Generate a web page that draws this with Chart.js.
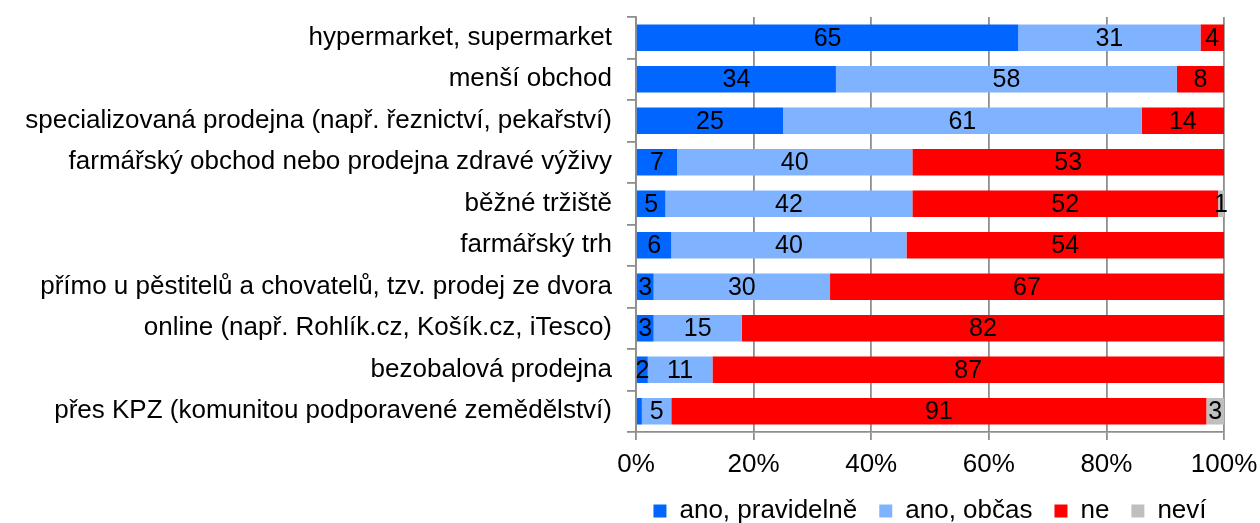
<!DOCTYPE html>
<html>
<head>
<meta charset="utf-8">
<script src="https://cdn.jsdelivr.net/npm/chart.js@4.4.1/dist/chart.umd.min.js"></script>
<style>
    body { margin: 0; background: #fff; }
    #obal { width: 1260px; height: 523px; }
</style>
</head>
<body>
<div id="obal"><canvas id="graf"></canvas></div>
<script>
// DATA
var kategorie = [
    "hypermarket, supermarket",
    "menší obchod",
    "specializovaná prodejna (např. řeznictví, pekařství)",
    "farmářský obchod nebo prodejna zdravé výživy",
    "běžné tržiště",
    "farmářský trh",
    "přímo u pěstitelů a chovatelů, tzv. prodej ze dvora",
    "online (např. Rohlík.cz, Košík.cz, iTesco)",
    "bezobalová prodejna",
    "přes KPZ (komunitou podporavené zemědělství)"
];
var anoPravidelne = [65, 34, 25, 7, 5, 6, 3, 3, 2, 1];
var anoObcas = [31, 58, 61, 40, 42, 40, 30, 15, 11, 5];
var ne = [4, 8, 14, 53, 52, 54, 67, 82, 87, 91];
var nevi = [0, 0, 0, 0, 1, 0, 0, 0, 0, 3];
var osaX = [0, 20, 40, 60, 80, 100];

var pismo = { family: "'Liberation Sans', Arial, sans-serif", size: 26 };
var seda = "#8e8e8e";

// popisky hodnot uprostred segmentu
var popisky = {
    id: "popisky",
    afterDatasetsDraw: function (chart) {
        var ctx = chart.ctx;
        ctx.save();
        ctx.font = "25px 'Liberation Sans', Arial, sans-serif";
        ctx.fillStyle = "#000";
        ctx.textAlign = "center";
        ctx.textBaseline = "middle";
        chart.data.datasets.forEach(function (ds, i) {
            chart.getDatasetMeta(i).data.forEach(function (bar, j) {
                var v = ds.data[j];
                if (!v || (i === 0 && v < 2)) return;
                var c = bar.getCenterPoint();
                ctx.fillText(v, c.x, c.y + 1);
            });
        });
        ctx.restore();
    }
};

// legenda vystredena pod oblasti grafu
var legendaStred = {
    id: "legendaStred",
    afterLayout: function (chart) {
        var l = chart.legend;
        if (l) {
            l.left = chart.chartArea.left - 22;
            l.right = chart.chartArea.right + 22;
            l.top -= 5;
            l.bottom -= 5;
        }
    }
};

function cargaGrafico() {
    var datos = {
        labels: kategorie,
        datasets: [
            { label: "ano, pravidelně", backgroundColor: "#0066ff", data: anoPravidelne },
            { label: "ano, občas", backgroundColor: "#80b3ff", data: anoObcas },
            { label: "ne", backgroundColor: "#ff0000", data: ne },
            { label: "neví", backgroundColor: "#bfbfbf", data: nevi }
        ]
    };
    new Chart(document.getElementById("graf"), {
        type: "bar",
        data: datos,
        plugins: [popisky, legendaStred],
        options: {
            indexAxis: "y",
            responsive: true,
            maintainAspectRatio: false,
            animation: false,
            datasets: { bar: { barPercentage: 0.64, categoryPercentage: 1 } },
            layout: { padding: { top: 17, right: 36, left: 0, bottom: -16 } },
            scales: {
                x: {
                    stacked: true,
                    min: 0,
                    max: 100,
                    afterBuildTicks: function (s) {
                        s.ticks = osaX.map(function (v) { return { value: v }; });
                    },
                    afterFit: function (s) {
                        s.height = 49;
                        s.paddingLeft = 0;
                        s.paddingRight = 0;
                    },
                    ticks: {
                        font: pismo,
                        color: "#000",
                        padding: 9,
                        callback: function (v) { return v + "%"; }
                    },
                    grid: { color: seda, lineWidth: 1.8, tickLength: 8, tickColor: seda },
                    border: { color: seda, width: 1.8 }
                },
                y: {
                    stacked: true,
                    afterFit: function (s) {
                        s.width = 636;
                        s.paddingTop = 0;
                        s.paddingBottom = 0;
                    },
                    ticks: { font: pismo, color: "#000", padding: 15, autoSkip: false },
                    grid: { drawOnChartArea: false, offset: true, tickLength: 9, color: seda, lineWidth: 1.8 },
                    border: { color: seda, width: 1.8 }
                }
            },
            plugins: {
                legend: {
                    position: "bottom",
                    labels: {
                        font: pismo,
                        color: "#000",
                        boxWidth: 13,
                        boxHeight: 13,
                        padding: 22
                    }
                },
                tooltip: { enabled: false }
            }
        }
    });
}

cargaGrafico();
</script>
</body>
</html>
